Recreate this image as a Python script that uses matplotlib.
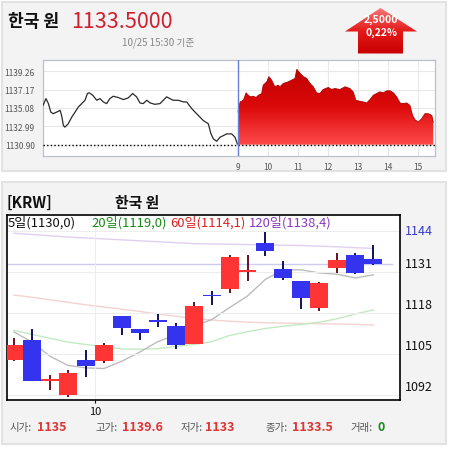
import numpy as np
import matplotlib.pyplot as plt
from matplotlib.patches import Rectangle, Polygon
from matplotlib.colors import LinearSegmentedColormap
from matplotlib.transforms import blended_transform_factory

plt.rcParams['font.family'] = ['Noto Sans CJK KR', 'DejaVu Sans']

W, H = 449, 452

# 전일 시세 (시각, 값) - 차트 왼쪽 구간
prev_hours = [9.00, 9.10, 9.18, 9.26, 9.34, 9.46, 9.57, 9.62, 9.68, 9.73,
              9.84, 9.96, 10.07, 10.18, 10.29, 10.40, 10.48, 10.54, 10.66, 10.79,
              10.90, 11.01, 11.12, 11.23, 11.34, 11.51, 11.68, 11.84, 11.99, 12.12,
              12.23, 12.34, 12.46, 12.57, 12.73, 12.90, 13.01, 13.12, 13.23, 13.34,
              13.51, 13.68, 13.79, 13.96, 14.12, 14.23, 14.34, 14.51, 14.60, 14.68,
              14.79, 14.90, 15.01, 15.12, 15.29, 15.40, 15.48]
prev_vals = [1135.38, 1136.15, 1135.58, 1134.62, 1134.43, 1134.62, 1134.81, 1134.23, 1133.08, 1132.90,
             1133.28, 1134.05, 1134.62, 1135.20, 1135.58, 1135.96, 1136.73, 1136.81, 1136.53, 1135.96,
             1136.15, 1135.77, 1135.58, 1136.15, 1136.42, 1136.27, 1136.04, 1136.23, 1136.73, 1136.35,
             1135.66, 1135.58, 1135.96, 1135.66, 1135.50, 1135.58, 1135.96, 1136.35, 1136.15, 1135.96,
             1135.96, 1135.77, 1135.77, 1135.00, 1134.43, 1134.05, 1133.66, 1133.28, 1132.13, 1131.56,
             1131.29, 1131.75, 1131.93, 1132.13, 1132.13, 1131.75, 1130.98]

# 당일 시세
today_hours = [9.00, 9.07, 9.18, 9.27, 9.34, 9.42, 9.51, 9.60, 9.68, 9.79,
               9.84, 9.96, 10.03, 10.12, 10.23, 10.34, 10.40, 10.51, 10.68, 10.79,
               10.90, 10.96, 11.07, 11.18, 11.29, 11.40, 11.51, 11.62, 11.73, 11.84,
               12.01, 12.12, 12.23, 12.40, 12.57, 12.73, 12.84, 12.93, 13.07, 13.18,
               13.29, 13.40, 13.51, 13.62, 13.73, 13.84, 13.96, 14.07, 14.18, 14.29,
               14.40, 14.51, 14.62, 14.73, 14.82, 14.90, 15.01, 15.12, 15.23, 15.34,
               15.46, 15.51]
today_vals = [1134.62, 1135.77, 1135.96, 1136.81, 1136.53, 1136.35, 1136.42, 1136.27, 1136.53, 1136.73,
              1137.68, 1138.07, 1138.65, 1138.26, 1137.50, 1137.68, 1137.50, 1137.88, 1138.07, 1138.26,
              1138.45, 1139.49, 1139.03, 1138.65, 1138.45, 1137.88, 1137.50, 1136.81, 1136.73, 1137.19,
              1137.42, 1137.19, 1137.30, 1137.19, 1137.50, 1137.30, 1136.92, 1135.96, 1135.84, 1135.77,
              1135.66, 1136.04, 1136.53, 1136.73, 1136.92, 1136.81, 1137.04, 1137.04, 1136.81, 1136.35,
              1135.66, 1135.58, 1135.66, 1135.38, 1134.23, 1133.74, 1133.47, 1133.85, 1134.43, 1134.43,
              1134.23, 1133.47]

top_ticks = [1130.90, 1132.99, 1135.08, 1137.17, 1139.26]
hour_ticks = [9, 10, 11, 12, 13, 14, 15]

# 일봉 데이터
opens = [1103.0, 1109.3, 1096.7, 1092.0, 1103.0, 1102.8, 1117.0, 1112.8, 1115.7, 1113.8, 1108.1,
         1123.6, 1125.5, 1131.1, 1140.1, 1131.9, 1128.1, 1119.5, 1132.1, 1136.3, 1135.0]
highs = [1110.0, 1112.8, 1098.2, 1099.7, 1106.3, 1108.4, 1117.0, 1112.8, 1117.6, 1114.6, 1121.4,
         1124.9, 1136.3, 1136.3, 1143.5, 1134.5, 1128.1, 1127.6, 1136.9, 1136.9, 1139.6]
lows = [1102.7, 1096.4, 1093.6, 1091.4, 1097.7, 1102.1, 1110.9, 1109.4, 1113.6, 1106.5, 1108.1,
        1120.5, 1124.2, 1128.1, 1136.1, 1128.5, 1119.2, 1118.6, 1130.7, 1130.3, 1133.0]
closes = [1107.8, 1096.4, 1096.9, 1098.9, 1101.2, 1107.8, 1113.2, 1111.7, 1115.1, 1107.8, 1120.1,
          1123.3, 1135.7, 1131.3, 1137.7, 1129.1, 1122.7, 1127.4, 1134.7, 1130.7, 1133.5]

ma5 = [1111.9, 1108.7, 1104.2, 1101.3, 1100.5, 1100.3, 1102.6, 1105.5, 1108.8, 1111.0, 1113.8,
       1115.8, 1119.6, 1123.3, 1128.6, 1131.6, 1131.6, 1130.6, 1130.2, 1129.0, 1130.0]
ma20 = [1112.4, 1111.1, 1109.9, 1108.7, 1107.9, 1107.2, 1106.5, 1106.4, 1106.6, 1107.3, 1107.9,
        1108.8, 1110.8, 1112.0, 1113.0, 1113.7, 1114.3, 1115.0, 1116.1, 1117.6, 1118.9]
ma60 = [1123.6, 1122.9, 1122.1, 1121.3, 1120.5, 1119.8, 1119.1, 1118.4, 1117.6, 1116.9, 1116.2,
        1115.7, 1115.3, 1115.0, 1114.8, 1114.7, 1114.6, 1114.5, 1114.4, 1114.3, 1114.1]
ma120 = [1143.2, 1142.8, 1142.4, 1142.0, 1141.7, 1141.4, 1141.1, 1140.8, 1140.5, 1140.2, 1139.9,
         1139.8, 1139.7, 1139.6, 1139.5, 1139.4, 1139.3, 1139.1, 1138.9, 1138.6, 1138.4]
right_ticks = [1092, 1105, 1118, 1131, 1144]
last_price = 1133.5

fig = plt.figure(figsize=(W / 100, H / 100), dpi=100)
fig.patch.set_facecolor('white')


def px_axes(x0, y0, x1, y1):
    return fig.add_axes([x0 / W, 1 - y1 / H, (x1 - x0) / W, (y1 - y0) / H])


def ptext(x, y, s, **kw):
    # 픽셀 좌표로 그림 위에 글자 쓰기
    return fig.text(x / W, 1 - y / H, s, va='center', **kw)


# 배경 패널
bg = fig.add_axes([0, 0, 1, 1])
bg.set_xlim(0, W)
bg.set_ylim(H, 0)
bg.axis('off')
bg.add_patch(Rectangle((2, 3), 444, 169, fc='#f3f3f3', ec='#e2e2e2', lw=1.5))
bg.add_patch(Rectangle((2, 183), 444, 262, fc='#f3f3f3', ec='#e2e2e2', lw=1.5))

# 상단 제목
ptext(8, 22, '한국 원', fontsize=12.3, weight='bold', color='#111')
ptext(71, 22, '1133.5000', fontsize=15.5, color='#d02030')
ptext(122, 43, '10/25 15:30 기준', fontsize=7, color='#888')

# 상승 화살표
arrow = Polygon([(380.5, 9), (417, 32.5), (403, 32.5), (403, 54.5), (358, 54.5),
                 (358, 32.5), (345, 32.5)], closed=True, fc='none', ec='none')
bg.add_patch(arrow)
cmap_arrow = LinearSegmentedColormap.from_list('arr', ['#f87878', '#e41a1a', '#c80000'])
im = bg.imshow(np.linspace(0, 1, 256).reshape(-1, 1), cmap=cmap_arrow,
               extent=(345, 417, 54.5, 9), aspect='auto', zorder=2)
im.set_clip_path(arrow)
bg.set_xlim(0, W)
bg.set_ylim(H, 0)
ptext(381, 20, '2,5000', fontsize=7.5, weight='bold', color='white', ha='center')
ptext(381, 32.5, '0,22%', fontsize=7.5, weight='bold', color='white', ha='center')

# 상단 분 차트
ax1 = px_axes(43, 61, 435, 157)
ax1.set_facecolor('white')
ax1.plot(np.array(prev_hours) - 6.5, prev_vals, color='#2a2a2a', lw=0.9, zorder=3)
poly = ax1.fill_between(today_hours, today_vals, top_ticks[0], color='none', lw=0)
cmap_fill = LinearSegmentedColormap.from_list('fill', ['#c00000', '#dc0a0a', '#ff4a4a'])
im2 = ax1.imshow(np.linspace(0, 1, 256).reshape(-1, 1), cmap=cmap_fill,
                 extent=(9, 15.6, top_ticks[0], max(today_vals)), aspect='auto', zorder=2)
im2.set_clip_path(poly.get_paths()[0], transform=ax1.transData)
ax1.plot(today_hours, today_vals, color='#b00000', lw=0.6, zorder=3)
ax1.set_xlim(2.5, 2.5 + 392 / 30)
ax1.set_ylim(1129.61, 1140.55)
ax1.axhline(top_ticks[0], color='black', lw=1, ls=(0, (1, 1.6)), zorder=4)
ax1.axvline(9, color='#6c80d8', lw=1, zorder=4)
ax1.set_yticks(top_ticks)
ax1.set_yticklabels([f'{t:.2f}' for t in top_ticks])
ax1.set_xticks(hour_ticks)
ax1.set_xticklabels([str(h) for h in hour_ticks])
ax1.grid(True, color='#e8e8e8', lw=0.8, zorder=0)
ax1.set_axisbelow(True)
ax1.tick_params(length=0, labelsize=6, colors='#555555')
ax1.tick_params(axis='y', pad=6)
ax1.tick_params(axis='x', pad=4)
for s in ax1.spines.values():
    s.set_color('#bcc0cc')
    s.set_linewidth(0.9)

# 하단 일봉 차트 제목
ptext(7, 203, '[KRW]', fontsize=10.8, weight='bold', color='#111')
ptext(115, 203, '한국 원', fontsize=10.7, weight='bold', color='#111')

ax2 = px_axes(7, 216, 400, 401)
ax2.set_facecolor('white')
x = np.arange(len(opens))
o = np.array(opens)
c = np.array(closes)
up = c >= o
body_col = np.where(up, '#ff3535', '#3434ee')
wick_col = np.where(up, '#5a0010', '#000050')
ax2.plot(x, ma120, color='#e0d0f0', lw=1, zorder=1)
ax2.plot(x, ma60, color='#f4d2d2', lw=1, zorder=1)
ax2.plot(x, ma20, color='#c2eac2', lw=1, zorder=1)
ax2.plot(x, ma5, color='#bcbcbc', lw=1, zorder=1)
ax2.axhline(last_price, xmax=0.98, color='#cccbf0', lw=1, zorder=1)
ax2.vlines(x, lows, highs, colors=wick_col, lw=1.3, zorder=3)
body = np.maximum(np.abs(c - o), 0.6)
ax2.bar(x, body, width=1.0, bottom=(o + c) / 2 - body / 2, color=body_col, lw=0, zorder=4)
ax2.set_xlim(-0.39, 21.49)
ax2.set_ylim(1090.32, 1148.98)
ax2.set_yticks(right_ticks)
ax2.set_yticklabels([])
ax2.set_xticks([4.5])
ax2.set_xticklabels(['10'])
ax2.tick_params(axis='y', length=0)
ax2.tick_params(axis='x', length=2, labelsize=8, pad=2, colors='#111')
ax2.grid(True, color='#ededed', lw=0.8, zorder=0)
for s in ax2.spines.values():
    s.set_color('black')
    s.set_linewidth(1.2)

tr = blended_transform_factory(ax2.transAxes, ax2.transData)
for t in right_ticks:
    off = 0.2 if t == 1144 else 2.75
    col = '#3a3ac8' if t == 1144 else '#111111'
    ax2.text(1.012, t + off, str(t), transform=tr, fontsize=9, va='center', ha='left', color=col)

# 이동평균 범례
legend_items = [('5일(1130,0)', 8, '#111111'), ('20일(1119,0)', 91, '#1a8a1a'),
                ('60일(1114,1)', 170, '#e02020'), ('120일(1138,4)', 249, '#8a3ac0')]
for label, lx, col in legend_items:
    ptext(lx, 223, label, fontsize=9.4, color=col)

# 하단 시세 요약
stats = [('시가:', 10, '1135', 37, '#e03535'), ('고가:', 95, '1139.6', 122, '#e03535'),
         ('저가:', 181, '1133', 205, '#e03535'), ('종가:', 266, '1133.5', 292, '#e03535'),
         ('거래:', 350, '0', 377, '#1a8a1a')]
for lab, lx, val, vx, col in stats:
    ptext(lx, 428, lab, fontsize=7.5, color='#555555')
    ptext(vx, 428, val, fontsize=9, weight='bold', color=col)

fig.savefig('out.png', dpi=100)
